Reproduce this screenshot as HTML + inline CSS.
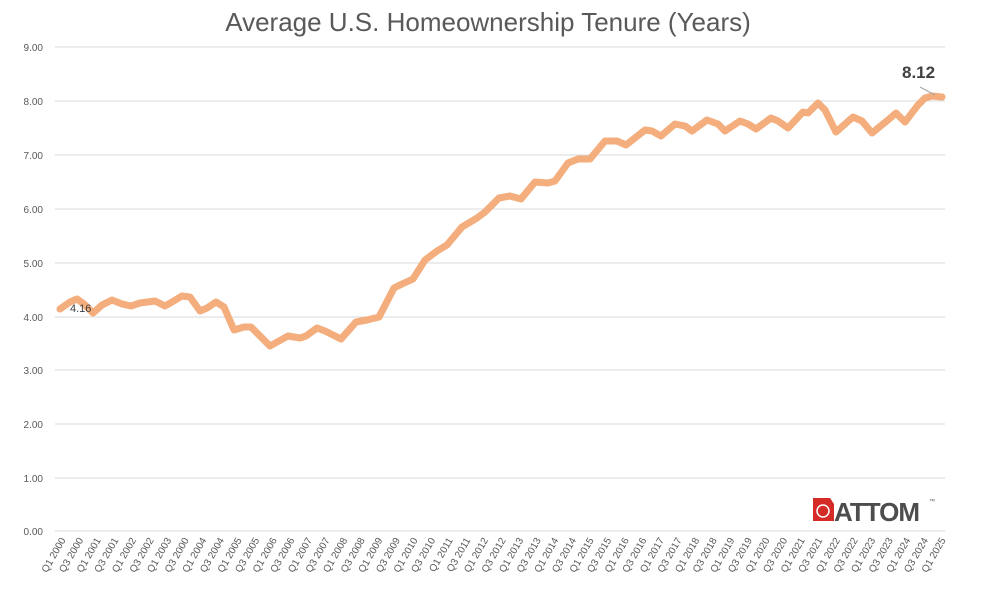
<!DOCTYPE html>
<html><head><meta charset="utf-8"><style>
body{margin:0;background:#fff;width:981px;height:605px;overflow:hidden}
</style></head><body>
<svg width="981" height="605" xmlns="http://www.w3.org/2000/svg" font-family="Liberation Sans, sans-serif">
<text x="488" y="31" text-anchor="middle" font-size="26" fill="#595959">Average U.S. Homeownership Tenure (Years)</text>
<g stroke="#d9d9d9" stroke-width="1">
<line x1="55" x2="945" y1="47" y2="47"/><line x1="55" x2="945" y1="101" y2="101"/><line x1="55" x2="945" y1="155" y2="155"/><line x1="55" x2="945" y1="209" y2="209"/><line x1="55" x2="945" y1="263" y2="263"/><line x1="55" x2="945" y1="317" y2="317"/><line x1="55" x2="945" y1="370" y2="370"/><line x1="55" x2="945" y1="424" y2="424"/><line x1="55" x2="945" y1="478" y2="478"/><line x1="55" x2="945" y1="531" y2="531"/>
</g>
<g font-size="10" fill="#595959" text-anchor="end">
<text x="43" y="51">9.00</text><text x="43" y="105">8.00</text><text x="43" y="159">7.00</text><text x="43" y="213">6.00</text><text x="43" y="267">5.00</text><text x="43" y="321">4.00</text><text x="43" y="374">3.00</text><text x="43" y="428">2.00</text><text x="43" y="482">1.00</text><text x="43" y="535">0.00</text>
</g>
<polyline fill="none" stroke="#F4AD7C" stroke-width="7" stroke-linejoin="round" stroke-linecap="round" points="60,309 70,302 77,299 84,304 93,313 102,305 112,300 122,304 131,306 140,303 155,301 165,306 172,302 182,296 190,297 200,311 207,308 216,302 224,307 234,330 244,327 251,327 270,346 288,336 300,338 306,336 317,328 325,331 341,339 356,322 367,320 379,317 394,288 402,284 413,279 425,260 437,251 447,245 462,227 477,218 485,212 499,198 510,196 521,199 535,182 548,183 555,181 568,163 578,159 590,159 605,141 617,141 626,145 645,130 652,131 661,136 675,124 685,126 692,131 707,120 718,124 725,131 740,121 748,124 756,129 771,118 778,121 788,128 803,112 808,113 818,103 825,110 836,132 853,117 862,121 872,133 888,120 896,113 905,122 918,105 925,98 932,96 942,97"/>
<text x="70" y="312" font-size="11" fill="#404040">4.16</text>
<line x1="920" y1="87" x2="935" y2="95" stroke="#a6a6a6" stroke-width="1"/>
<text x="902" y="78" font-size="17" font-weight="bold" fill="#404040">8.12</text>
<g font-size="10" fill="#595959" id="xl"></g>
<g>
<path d="M813,498 h17 l4,6 v17 h-21 z" fill="#d42b27"/>
<circle cx="823" cy="511" r="6" fill="none" stroke="#fff" stroke-width="1.5"/>
<text x="834" y="521" font-size="26" font-weight="bold" fill="#4d4d4d" letter-spacing="-1">ATTOM</text>
<text x="929" y="503" font-size="6" fill="#4d4d4d">™</text>
</g>
</svg>
<script>
var g=document.getElementById('xl'),s='';
var yrs=[];for(var y=2000;y<=2025;y++){yrs.push('Q1 '+y);if(y<2025)yrs.push('Q3 '+y);}
yrs[7]='Q3 2000';
for(var i=0;i<yrs.length;i++){var x=62+i*17.6;s+='<text transform="translate('+(x+4)+',540) rotate(-60)" text-anchor="end">'+yrs[i]+'</text>';}
g.innerHTML=s;
</script>
</body></html>
